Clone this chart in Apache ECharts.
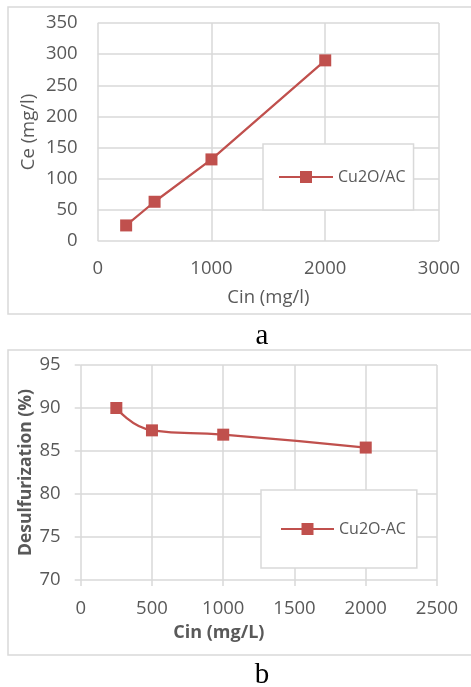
<!DOCTYPE html>
<html>
<head>
<meta charset="utf-8">
<script src="https://cdn.jsdelivr.net/npm/echarts@6/dist/echarts.min.js"></script>
<style>
html,body{margin:0;padding:0;background:#fff;}
#chart{width:471px;height:687px;}
</style>
</head>
<body>
<div id="chart"></div>
<script>
// Chart a data
const cinA = [250, 500, 1000, 2000];
const ceA = [25, 63, 131, 290];
const nameA = 'Cu2O/AC';
// Chart b data
const cinB = [250, 500, 1000, 2000];
const desulfB = [90, 87.4, 86.9, 85.4];
const nameB = 'Cu2O-AC';

const RED = '#c0504d';
const GRID = '#d9d9d9';
const TXT = '#595959';
const FONT = '"Open Sans", "Noto Sans", sans-serif';

const chart = echarts.init(document.getElementById('chart'), null, {renderer: 'canvas'});

function pairs(xs, ys) { return xs.map((x, i) => [x, ys[i]]); }
const plain = v => String(v);

const option = {
  backgroundColor: '#ffffff',
  animation: false,
  textStyle: {fontFamily: FONT},
  graphic: [
    {type: 'rect', shape: {x: 8, y: 7, width: 480, height: 307}, style: {fill: 'none', stroke: GRID, lineWidth: 1.5}, silent: true, z: 0},
    {type: 'rect', shape: {x: 8, y: 350, width: 480, height: 305}, style: {fill: 'none', stroke: GRID, lineWidth: 1.5}, silent: true, z: 0},
    {type: 'text', x: 262, y: 322, style: {text: 'a', font: '29px "Liberation Serif", "DejaVu Serif", serif', fill: '#000', align: 'center', verticalAlign: 'top'}},
    {type: 'text', x: 262, y: 660.5, style: {text: 'b', font: '29px "Liberation Serif", "DejaVu Serif", serif', fill: '#000', align: 'center', verticalAlign: 'top'}}
  ],
  grid: [
    {left: 97.7, top: 23, width: 341.3, height: 218, containLabel: false},
    {left: 80.7, top: 365, width: 356.3, height: 215, containLabel: false}
  ],
  legend: [
    {
      data: [nameA], left: 263, top: 144,
      padding: [25, 8, 25, 15],
      borderColor: GRID, borderWidth: 1.5, backgroundColor: '#fff',
      itemWidth: 54, itemHeight: 15, itemGap: 5,
      textStyle: {fontFamily: FONT, fontSize: 16, color: TXT},
      z: 10
    },
    {
      data: [nameB], left: 261, top: 490,
      padding: [31, 11, 31, 19],
      borderColor: GRID, borderWidth: 1.5, backgroundColor: '#fff',
      itemWidth: 53, itemHeight: 15, itemGap: 5,
      textStyle: {fontFamily: FONT, fontSize: 16, color: TXT},
      z: 10
    }
  ],
  xAxis: [
    {
      gridIndex: 0, type: 'value', min: 0, max: 3000, interval: 1000,
      name: 'Cin (mg/l)', nameLocation: 'middle', nameGap: 47, nameMoveOverlap: false,
      nameTextStyle: {fontFamily: FONT, fontSize: 18.5, color: TXT},
      axisLine: {show: false}, axisTick: {show: false},
      axisLabel: {fontFamily: FONT, fontSize: 18.5, color: TXT, margin: 18, formatter: plain},
      splitLine: {show: true, lineStyle: {color: GRID, width: 1.5}}
    },
    {
      gridIndex: 1, type: 'value', min: 0, max: 2500, interval: 500,
      name: 'Cin (mg/L)', nameLocation: 'middle', nameGap: 44, nameMoveOverlap: false,
      nameTextStyle: {fontFamily: FONT, fontSize: 18, fontWeight: 'bold', color: TXT, padding: [0, 80, 0, 0]},
      axisLine: {show: false},
      axisTick: {show: true, length: 6, lineStyle: {color: GRID, width: 1.5}},
      axisLabel: {fontFamily: FONT, fontSize: 18.5, color: TXT, margin: 19, formatter: plain},
      splitLine: {show: true, lineStyle: {color: GRID, width: 1.5}}
    }
  ],
  yAxis: [
    {
      gridIndex: 0, type: 'value', min: 0, max: 350, interval: 50,
      name: 'Ce (mg/l)', nameLocation: 'middle', nameGap: 59, nameMoveOverlap: false,
      nameTextStyle: {fontFamily: FONT, fontSize: 18.5, color: TXT},
      axisLine: {show: false}, axisTick: {show: false},
      axisLabel: {fontFamily: FONT, fontSize: 18.5, color: TXT, margin: 20, formatter: plain},
      splitLine: {show: true, lineStyle: {color: GRID, width: 1.5}}
    },
    {
      gridIndex: 1, type: 'value', min: 70, max: 95, interval: 5,
      name: 'Desulfurization (%)', nameLocation: 'middle', nameGap: 46, nameMoveOverlap: false,
      nameTextStyle: {fontFamily: FONT, fontSize: 17.5, fontWeight: 'bold', color: TXT},
      axisLine: {show: false},
      axisTick: {show: true, length: 6, lineStyle: {color: GRID, width: 1.5}},
      axisLabel: {fontFamily: FONT, fontSize: 18.5, color: TXT, margin: 20, formatter: plain},
      splitLine: {show: true, lineStyle: {color: GRID, width: 1.5}}
    }
  ],
  series: [
    {
      name: nameA, type: 'line', xAxisIndex: 0, yAxisIndex: 0,
      data: pairs(cinA, ceA),
      symbol: 'rect', symbolSize: 12,
      lineStyle: {color: RED, width: 2.25},
      itemStyle: {color: RED},
      z: 3
    },
    {
      name: nameB, type: 'line', xAxisIndex: 1, yAxisIndex: 1,
      data: pairs(cinB, desulfB),
      symbol: 'rect', symbolSize: 12, smooth: 0.5,
      lineStyle: {color: RED, width: 2.25},
      itemStyle: {color: RED},
      z: 3
    }
  ]
};
chart.setOption(option);
</script>
</body>
</html>
